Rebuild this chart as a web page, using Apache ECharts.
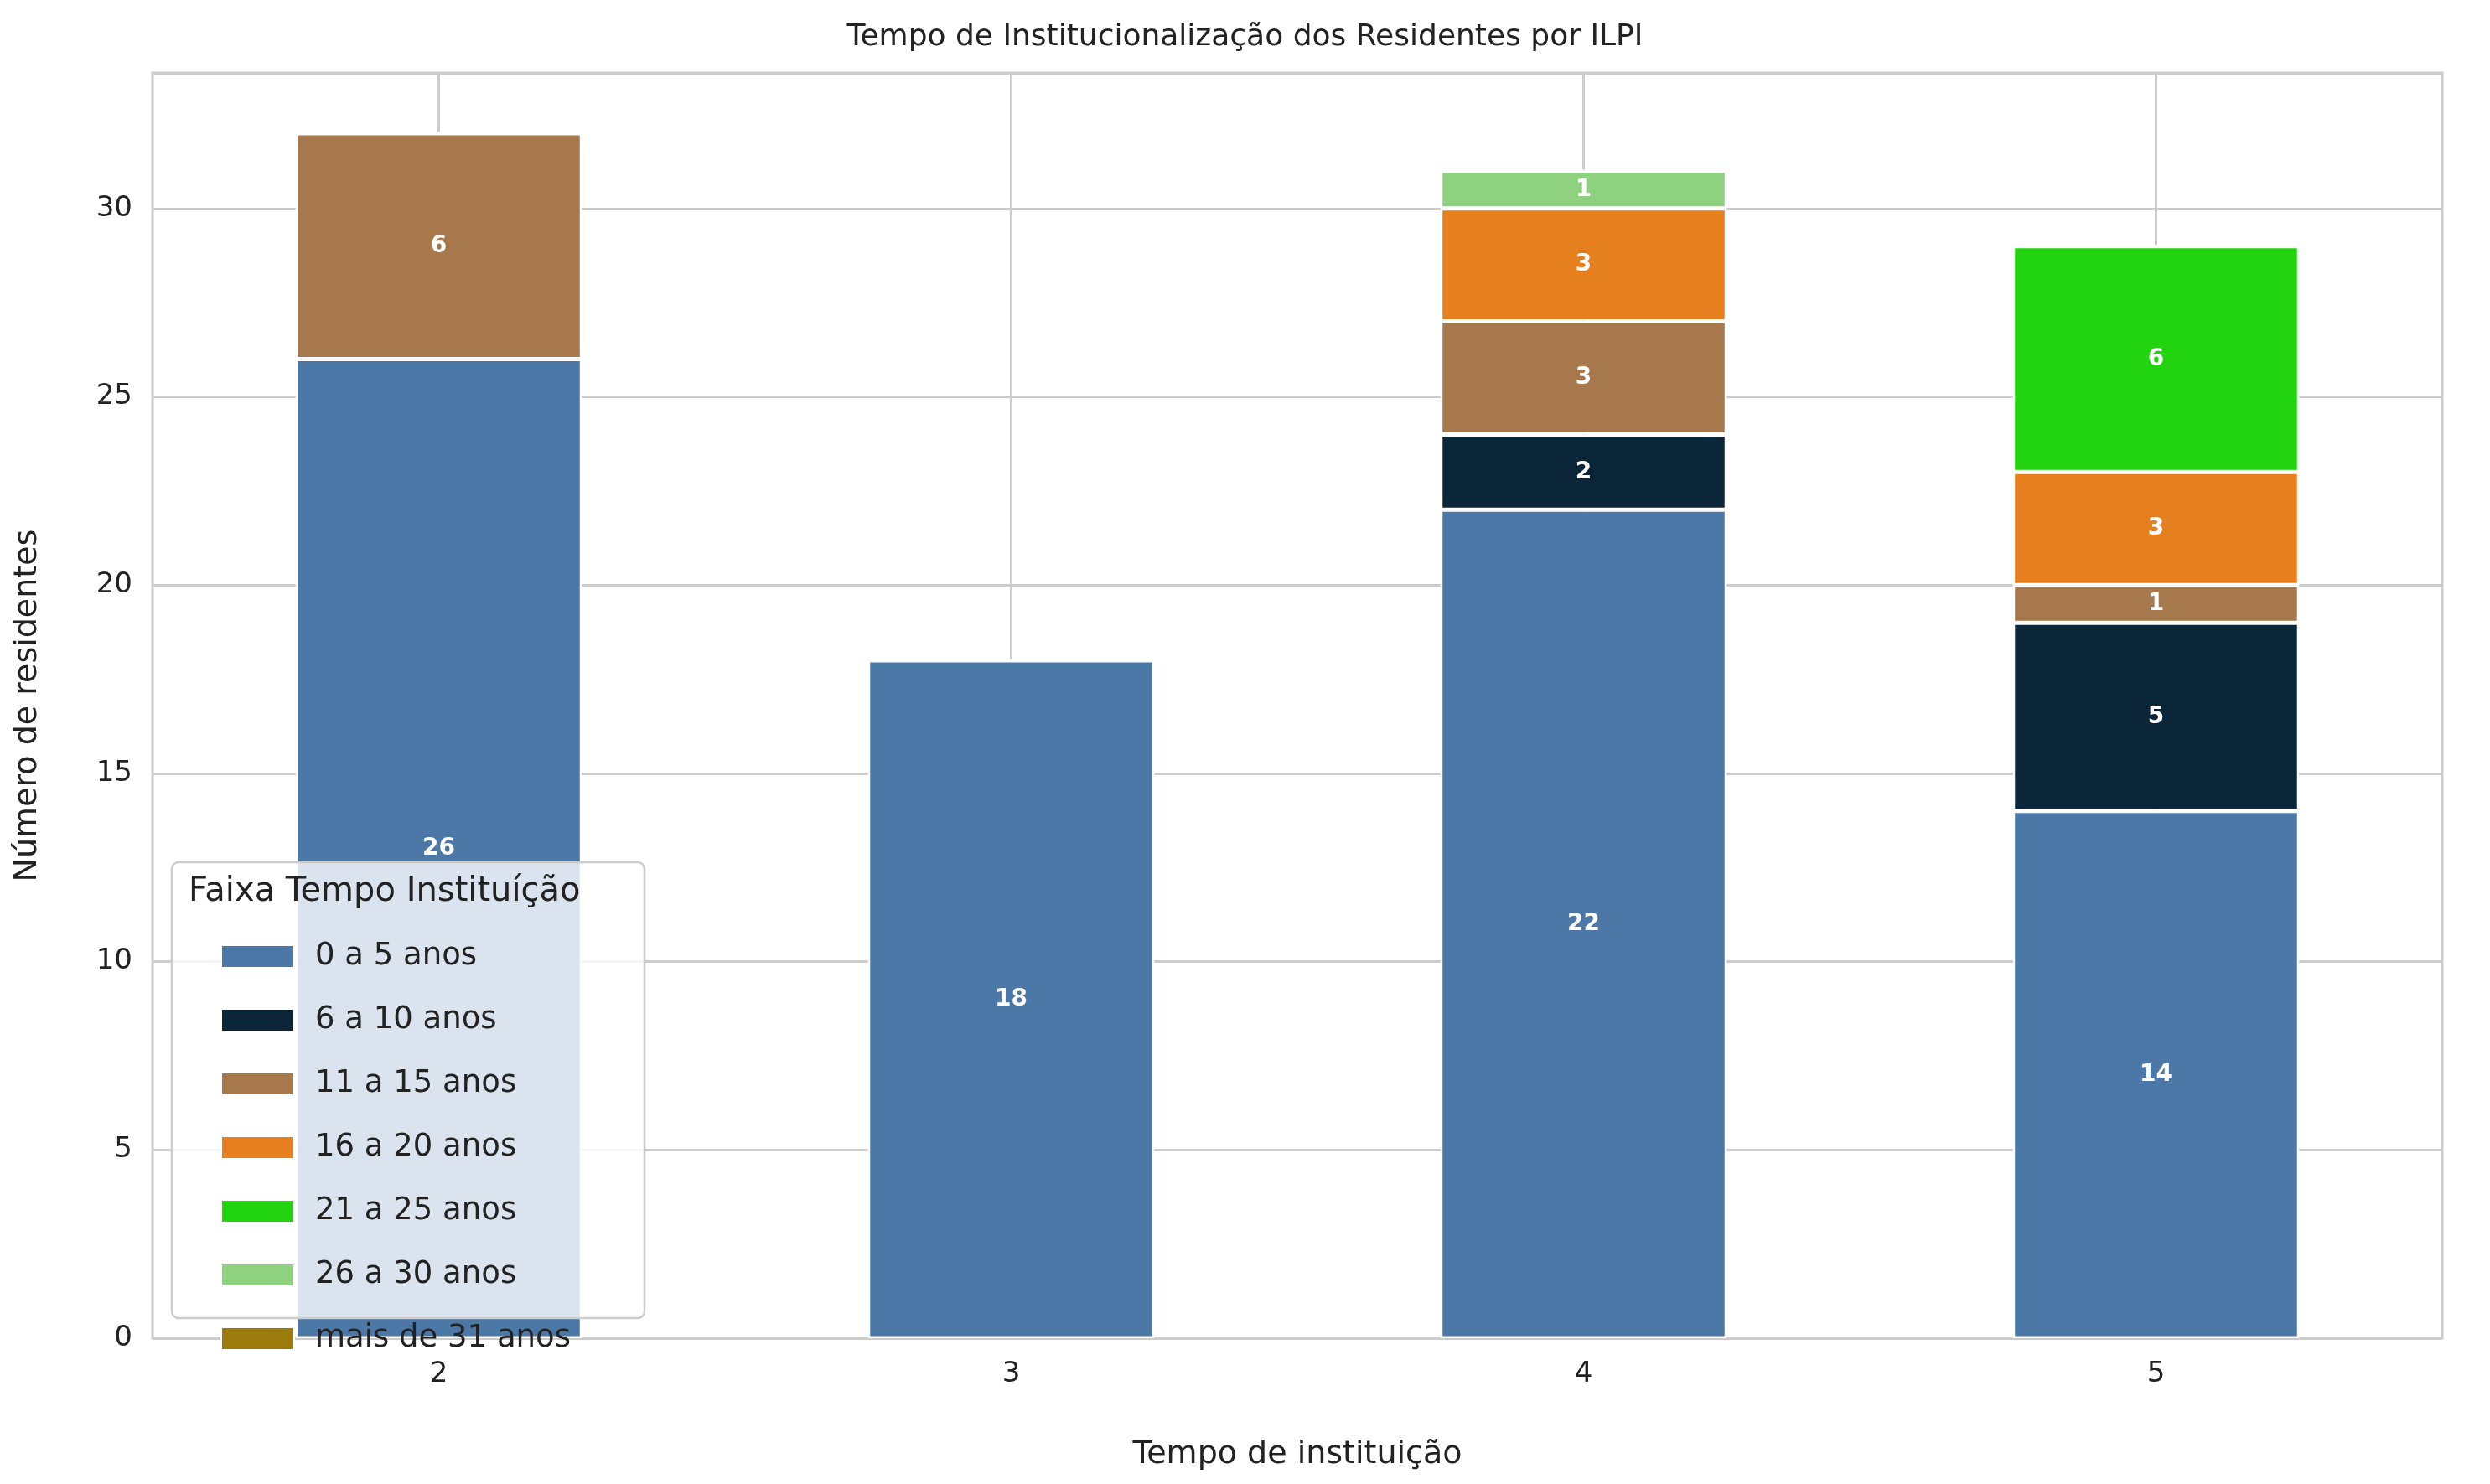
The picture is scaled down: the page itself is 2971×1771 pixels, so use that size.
<!DOCTYPE html>
<html>
<head>
<meta charset="utf-8">
<script src="https://cdn.jsdelivr.net/npm/echarts@6/dist/echarts.min.js"></script>
<style>html,body{margin:0;padding:0;background:#fff}#chart{width:2971px;height:1771px}</style>
</head>
<body>
<div id="chart"></div>
<script>
// dados
const categorias = ['2', '3', '4', '5'];
const faixas = ['0 a 5 anos', '6 a 10 anos', '11 a 15 anos', '16 a 20 anos', '21 a 25 anos', '26 a 30 anos', 'mais de 31 anos'];
const cores = ['#4c78a8', '#0b2539', '#a6784b', '#e6801e', '#22d30f', '#8ed17f', '#9c7a0b'];
const v0a5 = [26, 18, 22, 14];
const v6a10 = [0, 0, 2, 5];
const v11a15 = [6, 0, 3, 1];
const v16a20 = [0, 0, 3, 3];
const v21a25 = [0, 0, 0, 6];
const v26a30 = [0, 0, 1, 0];
const v31mais = [0, 0, 0, 0];
const valores = [v0a5, v6a10, v11a15, v16a20, v21a25, v26a30, v31mais];
const yTicks = [0, 5, 10, 15, 20, 25, 30];

const chart = echarts.init(document.getElementById('chart'));
const fonte = 'DejaVu Sans';

const series = faixas.map((nome, i) => ({
    name: nome,
    type: 'bar',
    stack: 'total',
    barWidth: '50%',
    xAxisIndex: 0,
    data: valores[i],
    itemStyle: { color: cores[i], borderColor: '#fff', borderWidth: 2.5 },
    label: {
        show: true,
        position: 'inside',
        color: '#fff',
        fontWeight: 'bold',
        fontSize: 28,
        fontFamily: fonte,
        formatter: p => (p.value > 0 ? p.value : '')
    }
}));

chart.setOption({
    animation: false,
    title: {
        text: 'Tempo de Institucionalização dos Residentes por ILPI',
        left: 'center', top: 22,
        textStyle: { fontFamily: fonte, fontWeight: 'normal', fontSize: 36, color: '#222' }
    },
    grid: { left: 182, right: 57, top: 87, bottom: 174, show: true, borderColor: '#ccc', borderWidth: 3 },
    xAxis: [{
        type: 'category',
        data: categorias,
        name: 'Tempo de instituição',
        nameLocation: 'middle',
        nameGap: 120,
        nameTextStyle: { fontFamily: fonte, fontSize: 38, color: '#222' },
        axisLine: { show: false },
        axisTick: { show: false },
        axisLabel: { fontFamily: fonte, fontSize: 34, color: '#222', margin: 26 },
        splitLine: { show: false }
    }, {
        type: 'category',
        boundaryGap: false,
        data: ['', '', '', '', '', '', '', '', ''],
        position: 'bottom',
        axisLine: { show: false },
        axisTick: { show: false },
        axisLabel: { show: false },
        splitLine: { show: true, interval: i => i % 2 === 1, lineStyle: { color: '#ccc', width: 3 } }
    }],
    yAxis: {
        type: 'value',
        min: 0, max: 33.6, interval: 5,
        name: 'Número de residentes',
        nameLocation: 'middle',
        nameGap: 130,
        nameTextStyle: { fontFamily: fonte, fontSize: 38, color: '#222' },
        axisLine: { show: false },
        axisTick: { show: false },
        axisLabel: {
            fontFamily: fonte, fontSize: 34, color: '#222', margin: 24,
            formatter: v => (yTicks.includes(v) ? v : '')
        },
        splitLine: { lineStyle: { color: '#ccc', width: 3 } }
    },
    graphic: [{
        type: 'rect',
        shape: { x: 205, y: 1029, width: 564, height: 544, r: 8 },
        style: { fill: 'rgba(255,255,255,0.8)', stroke: '#ccc', lineWidth: 2.5 },
        z: 100
    }, {
        type: 'text',
        x: 225, y: 1045,
        style: { text: 'Faixa Tempo Instituíção', fontFamily: fonte, fontSize: 40, fill: '#222' },
        z: 101
    }],
    legend: {
        orient: 'vertical',
        left: 258, top: 1118,
        itemWidth: 87, itemHeight: 27, itemGap: 39,
        icon: 'rect',
        z: 102,
        textStyle: { fontFamily: fonte, fontSize: 37, color: '#222', padding: [0, 0, 0, 20] },
        data: faixas
    },
    series: series
});
</script>
</body>
</html>
